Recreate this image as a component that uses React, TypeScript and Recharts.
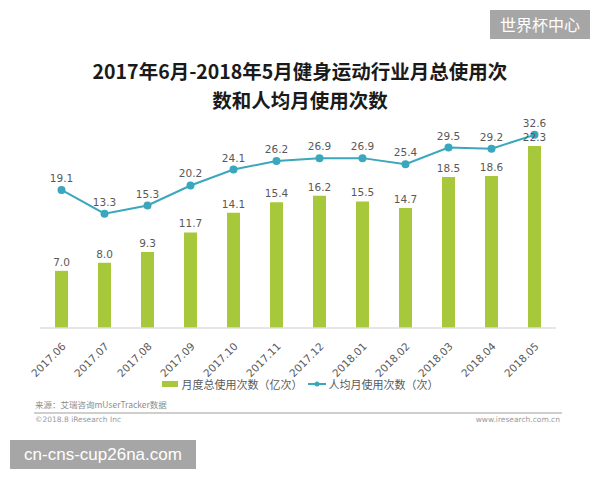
import React from "react";
import {
  ComposedChart,
  Bar,
  Line,
  XAxis,
  YAxis,
  LabelList,
} from "recharts";

const months = [
  "2017.06", "2017.07", "2017.08", "2017.09", "2017.10", "2017.11",
  "2017.12", "2018.01", "2018.02", "2018.03", "2018.04", "2018.05",
];
// 月度总使用次数（亿次）
const totalUses = [7.0, 8.0, 9.3, 11.7, 14.1, 15.4, 16.2, 15.5, 14.7, 18.5, 18.6, 22.3];
// 人均月使用次数（次）
const perUserUses = [19.1, 13.3, 15.3, 20.2, 24.1, 26.2, 26.9, 26.9, 25.4, 29.5, 29.2, 32.6];

const barName = "月度总使用次数（亿次）";
const lineName = "人均月使用次数（次）";
const titleLines = ["2017年6月-2018年5月健身运动行业月总使用次", "数和人均月使用次数"];

const data = months.map((m, i) => ({
  month: m,
  total: totalUses[i],
  perUser: perUserUses[i],
}));

const GREEN = "#a8c83b";
const TEAL = "#3aa7bd";
const TEXT = "#595959";
const cjk = '"Noto Sans CJK SC", "Noto Sans", sans-serif';
const num = '"DejaVu Sans", Verdana, sans-serif';

const MonthTick = (props: any) => {
  const { x, y, payload } = props;
  return (
    <g transform={`translate(${x + 5},${y + 11})`}>
      <text
        x={0}
        y={0}
        textAnchor="end"
        transform="rotate(-45)"
        fontSize={10.5}
        fontFamily={num}
        fill={TEXT}
      >
        {payload.value}
      </text>
    </g>
  );
};

const fmt = (v: any) => Number(v).toFixed(1);

const App = () => {
  return (
    <div
      style={{
        position: "absolute",
        left: 0,
        top: 0,
        width: 600,
        height: 480,
        background: "#fff",
        fontFamily: cjk,
      }}
    >
      {/* title, two lines */}
      {titleLines.map((t, i) => (
        <div
          key={i}
          style={{
            position: "absolute",
            left: 0,
            width: 600,
            top: 60 + i * 29,
            height: 22,
            textAlign: "center",
            fontSize: 19.5,
            fontWeight: 700,
            lineHeight: "22px",
            color: "#1a1a1a",
          }}
        >
          {t}
        </div>
      ))}

      <div style={{ position: "absolute", left: 0, top: 0 }}>
        <ComposedChart
          width={600}
          height={400}
          data={data}
          margin={{ top: 132, right: 44, left: 40, bottom: 0 }}
        >
          <XAxis
            dataKey="month"
            height={72}
            interval={0}
            tickLine={false}
            axisLine={{ stroke: "#dedede", strokeWidth: 1.5 }}
            tick={<MonthTick />}
          />
          <YAxis yAxisId="bar" hide domain={[0, 24]} />
          <YAxis yAxisId="line" hide orientation="right" domain={[-14.7, 33.3]} />
          <Bar
            yAxisId="bar"
            dataKey="total"
            name={barName}
            fill={GREEN}
            barSize={13}
            isAnimationActive={false}
          >
            <LabelList
              dataKey="total"
              position="top"
              offset={5}
              formatter={fmt}
              style={{ fontSize: 10.5, fontFamily: num, fill: TEXT }}
            />
          </Bar>
          <Line
            yAxisId="line"
            dataKey="perUser"
            name={lineName}
            stroke={TEAL}
            strokeWidth={2}
            dot={{ r: 3, fill: TEAL, stroke: TEAL }}
            isAnimationActive={false}
          >
            <LabelList
              dataKey="perUser"
              position="top"
              offset={8}
              formatter={fmt}
              style={{ fontSize: 10.5, fontFamily: num, fill: TEXT }}
            />
          </Line>
        </ComposedChart>
      </div>

      {/* legend */}
      <div
        style={{
          position: "absolute",
          top: 376,
          left: 0,
          width: 600,
          display: "flex",
          justifyContent: "center",
          alignItems: "center",
          fontSize: 11,
          color: TEXT,
        }}
      >
        <span style={{ display: "inline-block", width: 16, height: 6, background: GREEN, marginRight: 4 }} />
        <span>{barName}</span>
        <svg width={18} height={10} style={{ margin: "0 3px 0 5px" }}>
          <line x1={0} y1={5} x2={18} y2={5} stroke={TEAL} strokeWidth={2} />
          <circle cx={9} cy={5} r={2.5} fill={TEAL} />
        </svg>
        <span>{lineName}</span>
      </div>

      {/* source & footer */}
      <div style={{ position: "absolute", left: 35, top: 398, fontSize: 8.5, color: "#8c8c8c" }}>
        来源：艾瑞咨询mUserTracker数据
      </div>
      <div style={{ position: "absolute", left: 34, top: 412, width: 528, height: 1.5, background: "#cfcfcf" }} />
      <div style={{ position: "absolute", left: 35, top: 415, fontSize: 7.5, color: "#9a9a9a", fontFamily: num }}>
        ©2018.8 iResearch Inc
      </div>
      <div style={{ position: "absolute", right: 40, top: 415, fontSize: 7.5, color: "#9a9a9a", fontFamily: num }}>
        www.iresearch.com.cn
      </div>

      {/* watermarks */}
      <div
        style={{
          position: "absolute",
          left: 490,
          top: 10,
          width: 100,
          height: 29,
          background: "#a6a6a6",
          color: "#fff",
          fontSize: 16,
          lineHeight: "29px",
          textAlign: "center",
        }}
      >
        世界杯中心
      </div>
      <div
        style={{
          position: "absolute",
          left: 10,
          top: 440,
          width: 186,
          height: 29,
          background: "#a6a6a6",
          color: "#fff",
          fontSize: 17,
          lineHeight: "29px",
          textAlign: "center",
          fontFamily: '"Liberation Sans", Arial, sans-serif',
        }}
      >
        cn-cns-cup26na.com
      </div>
    </div>
  );
};

export default App;
